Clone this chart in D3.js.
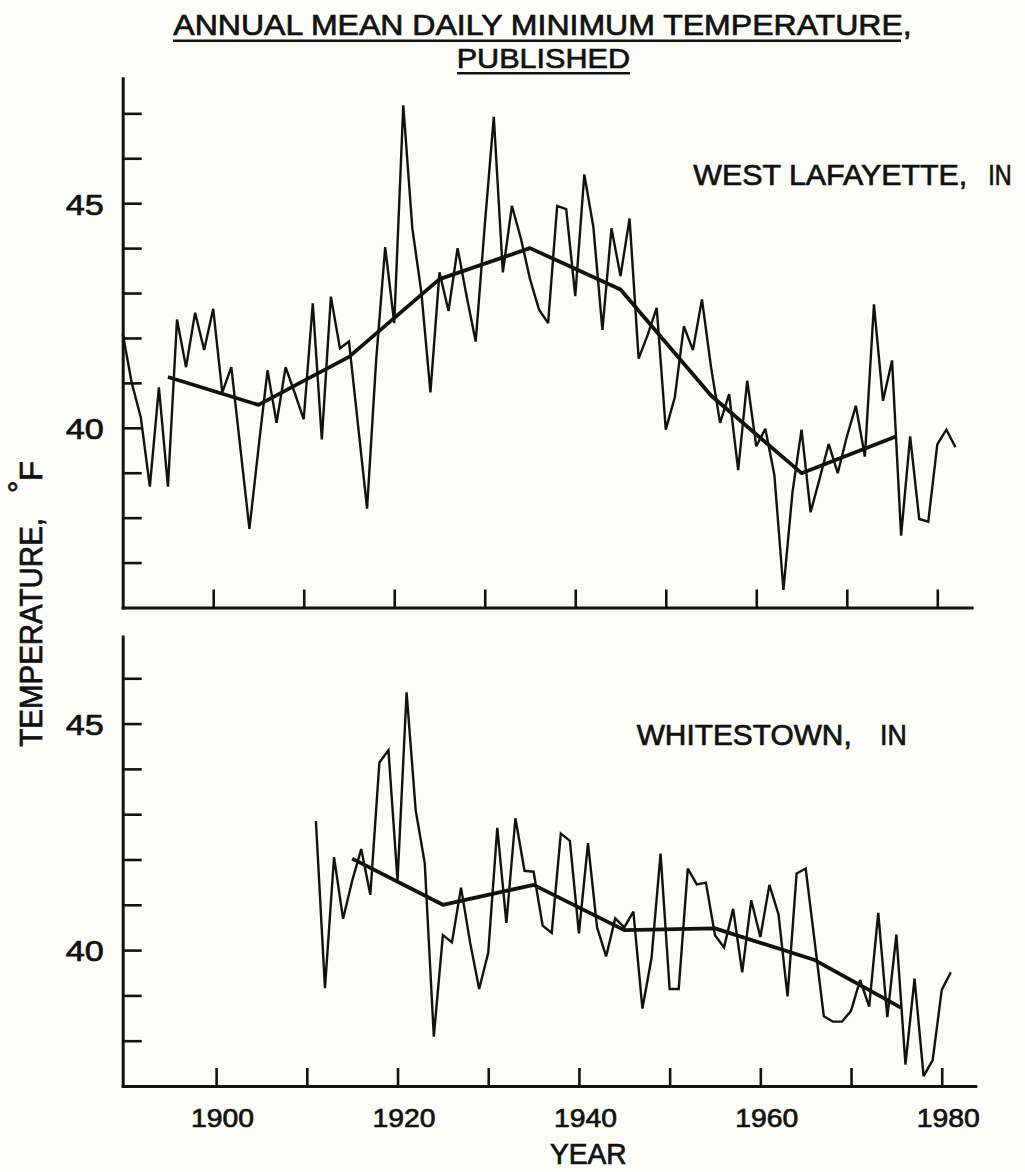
<!DOCTYPE html>
<html>
<head>
<meta charset="utf-8">
<script src="https://cdn.jsdelivr.net/npm/d3@7"></script>
<style>
  html, body { margin: 0; padding: 0; background: #fcfcf8; }
  svg { display: block; }
  text { font-family: "Liberation Sans", Arial, sans-serif; fill: #111; stroke: #111; stroke-width: 0.7px; }
</style>
</head>
<body>
<svg id="chart" width="1025" height="1172"></svg>
<script>
// ---------- DATA ----------
const titleLine1 = "ANNUAL MEAN DAILY MINIMUM TEMPERATURE,";
const titleLine2 = "PUBLISHED";
const yAxisTitle = "TEMPERATURE,";
const xAxisTitle = "YEAR";
const station1 = "WEST LAFAYETTE,";
const station2 = "WHITESTOWN,";

const xTickValues = [1900, 1910, 1920, 1930, 1940, 1950, 1960, 1970, 1980];
const xTickLabels = [1900, 1920, 1940, 1960, 1980];
const yLabelValues = [40, 45];
const yTicksTop = [37, 38, 39, 40, 41, 42, 43, 44, 45, 46, 47];
const yTicksBottom = [38, 39, 40, 41, 42, 43, 44, 45, 46];

// West Lafayette annual values, 1890-1982
const wlStartYear = 1890;
const wlValues = [
  42.1, 41.0, 40.23, 38.69, 40.90, 38.69, 42.41, 41.35, 42.56, 41.73,
  42.65, 40.79, 41.35, 39.55, 37.75, 39.54, 41.28, 40.11, 41.35, 40.78,
  40.19, 42.77, 39.74, 42.92, 41.77, 41.92, 40.06, 38.20, 41.50, 44.02,
  42.33, 47.18, 44.44, 43.01, 40.79, 43.46, 42.60, 44.00, 42.93, 41.92,
  44.50, 46.92, 43.46, 44.94, 44.21, 43.31, 42.63, 42.33, 44.94, 44.87,
  42.93, 45.64, 44.47, 42.18, 44.44, 43.38, 44.66, 41.54, 42.07, 42.67,
  39.96, 40.68, 42.26, 41.73, 42.86, 41.35, 40.11, 40.75, 39.06, 41.05,
  39.59, 39.98, 38.95, 36.39, 38.57, 39.96, 38.12, 38.87, 39.64, 38.99,
  39.80, 40.49, 39.36, 42.75, 40.60, 41.50, 37.60, 39.81, 37.97, 37.91,
  39.63, 39.96, 39.57
];
// West Lafayette smoothed (decadal) curve
const wlSmoothYears = [1895, 1905, 1915, 1925, 1935, 1945, 1955, 1965, 1975.5];
const wlSmoothValues = [41.13, 40.51, 41.58, 43.31, 44.00, 43.08, 40.72, 38.99, 39.81];

// Whitestown annual values, 1911-1981
const wsStartYear = 1911;
const wsValues = [
  42.85, 39.16, 42.05, 40.69, 41.53, 42.23, 41.22, 44.14, 44.41,
  41.53, 45.69, 43.09, 41.92, 38.09, 40.33, 40.17, 41.38, 40.17, 39.14,
  39.94, 42.70, 40.60, 42.91, 41.75, 41.73, 40.54, 40.38, 42.57, 42.41,
  40.37, 42.36, 40.50, 39.86, 40.70, 40.50, 40.85, 38.71, 39.82, 42.13,
  39.14, 39.14, 41.80, 41.45, 41.49, 40.33, 40.06, 40.91, 39.51, 41.10,
  40.29, 41.44, 40.79, 38.98, 41.69, 41.80, 40.17, 38.54, 38.42, 38.42,
  38.66, 39.34, 38.75, 40.82, 38.52, 40.34, 37.47, 39.37, 37.22, 37.57,
  39.12, 39.51
];
// Whitestown smoothed (decadal) curve
const wsSmoothYears = [1915, 1925, 1935, 1945, 1955, 1966, 1975.5];
const wsSmoothValues = [42.02, 41.00, 41.44, 40.44, 40.48, 39.78, 38.73];

// ---------- DRAW ----------
const ink = "#111";
const svg = d3.select("#chart");
svg.append("rect").attr("width", 1025).attr("height", 1172).attr("fill", "#fcfcf8");

const toPairs = (start, vals) => vals.map((v, i) => [start + i, v]);
const zip = (xs, vs) => xs.map((x, i) => [x, vs[i]]);

const panels = [
  {
    x: d3.scaleLinear().domain([1890, 1983.8]).range([122.7, 971.7]),
    y: d3.scaleLinear().domain([36, 47.78]).range([607.5, 78.3]),
    yTicks: yTicksTop,
    raw: toPairs(wlStartYear, wlValues),
    smooth: zip(wlSmoothYears, wlSmoothValues),
    xLabels: false
  },
  {
    x: d3.scaleLinear().domain([1889.7, 1983.7]).range([122.7, 975.3]),
    y: d3.scaleLinear().domain([37, 46.92]).range([1086, 636.6]),
    yTicks: yTicksBottom,
    raw: toPairs(wsStartYear, wsValues),
    smooth: zip(wsSmoothYears, wsSmoothValues),
    xLabels: true
  }
];

panels.forEach(p => {
  const g = svg.append("g");
  const x0 = p.x.range()[0];
  const yb = p.y.range()[0];

  const ya = g.append("g")
    .attr("transform", `translate(${x0},0)`)
    .call(d3.axisLeft(p.y)
      .tickValues(p.yTicks)
      .tickSize(-19)
      .tickSizeOuter(0)
      .tickPadding(19)
      .tickFormat(d => yLabelValues.includes(d) ? String(d) : ""));

  const xa = g.append("g")
    .attr("transform", `translate(0,${yb})`)
    .call(d3.axisBottom(p.x)
      .tickValues(xTickValues)
      .tickSize(-18)
      .tickSizeOuter(0)
      .tickPadding(22)
      .tickFormat(d => (p.xLabels && xTickLabels.includes(d)) ? String(d) : ""));

  [ya, xa].forEach(a => {
    a.select(".domain").attr("stroke", ink).attr("stroke-width", 3).attr("stroke-linecap", "square");
    a.selectAll(".tick line").attr("stroke", ink).attr("stroke-width", 2.6);
    a.selectAll(".tick text").attr("fill", ink).attr("stroke", ink).attr("stroke-width", 0.7)
      .style("font-family", '"Liberation Sans", Arial, sans-serif');
  });
  ya.selectAll(".tick text")
    .attr("font-size", 30)
    .attr("dy", "0.36em")
    .attr("textLength", 38)
    .attr("lengthAdjust", "spacingAndGlyphs");
  xa.selectAll(".tick text")
    .attr("font-size", 26.5)
    .attr("dx", 6)
    .attr("textLength", 63)
    .attr("lengthAdjust", "spacingAndGlyphs");

  const line = d3.line().x(d => p.x(d[0])).y(d => p.y(d[1]));

  g.append("path").datum(p.raw)
    .attr("d", line)
    .attr("fill", "none").attr("stroke", ink)
    .attr("stroke-width", 2.4).attr("stroke-linejoin", "miter").attr("stroke-miterlimit", 3);

  g.append("path").datum(p.smooth)
    .attr("d", line)
    .attr("fill", "none").attr("stroke", ink)
    .attr("stroke-width", 3.8).attr("stroke-linejoin", "round");
});

// ---------- TEXT ----------
function txt(str, x, y, size, len) {
  const t = svg.append("text").attr("x", x).attr("y", y).attr("font-size", size).text(str);
  if (len) t.attr("textLength", len).attr("lengthAdjust", "spacingAndGlyphs");
  return t;
}
function uline(x1, x2, y) {
  svg.append("line").attr("x1", x1).attr("x2", x2).attr("y1", y).attr("y2", y)
    .attr("stroke", ink).attr("stroke-width", 2.6);
}

txt(titleLine1, 173.3, 35, 29.5, 738.4);
uline(173, 901, 40.8);
txt(titleLine2, 456.7, 68, 28, 173.3);
uline(457, 630, 73.2);

txt(station1, 693.3, 184.6, 30, 274);
txt("IN", 988.3, 184.6, 30, 23.4);
txt(station2, 636.7, 745, 29, 215);
txt("IN", 880, 745, 29, 26.7);

txt(xAxisTitle, 550, 1164, 29, 76.7);

svg.append("text").attr("transform", "translate(41.7,746.7) rotate(-90)")
  .attr("font-size", 31).attr("textLength", 228.7).attr("lengthAdjust", "spacingAndGlyphs")
  .text(yAxisTitle);
svg.append("text").attr("transform", "translate(29.5,493) rotate(-90)")
  .attr("font-size", 31).text("\u00B0");
svg.append("text").attr("transform", "translate(41.7,481) rotate(-90)")
  .attr("font-size", 31).attr("textLength", 20).attr("lengthAdjust", "spacingAndGlyphs")
  .text("F");
</script>
</body>
</html>
